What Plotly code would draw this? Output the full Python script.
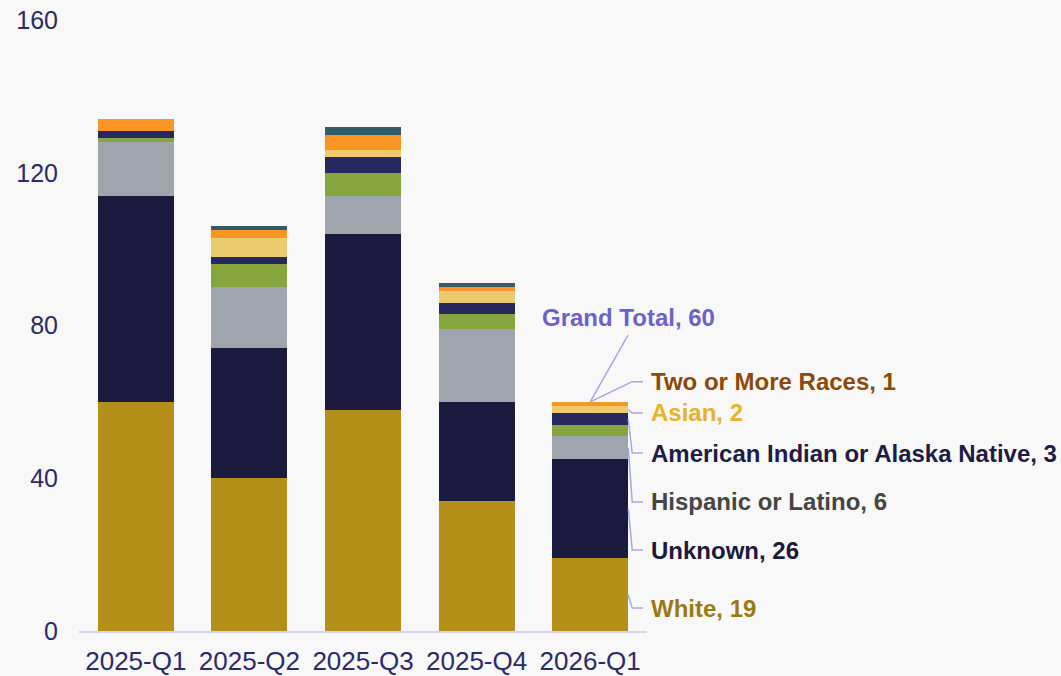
import plotly.graph_objects as go

quarters = ["2025-Q1", "2025-Q2", "2025-Q3", "2025-Q4", "2026-Q1"]

white = [60, 40, 58, 34, 19]
unknown = [54, 34, 46, 26, 26]
hispanic = [14, 16, 10, 19, 6]
black = [1, 6, 6, 4, 3]
am_indian = [2, 2, 4, 3, 3]
asian = [0, 5, 2, 3, 2]
two_or_more = [3, 2, 4, 1, 1]
nhpi = [0, 1, 2, 1, 0]

series_names = ["White", "Unknown", "Hispanic or Latino", "Black or African American",
                "American Indian or Alaska Native", "Asian", "Two or More Races",
                "Native Hawaiian or Other Pacific Islander"]
series_values = [white, unknown, hispanic, black, am_indian, asian, two_or_more, nhpi]
bar_colors = ["#B68F1A", "#1B1A3E", "#9EA5AC", "#85A53D", "#29275F", "#ECCB6E", "#FA9424", "#345B66"]
label_colors = ["#9C7A12", "#1B1A3E", "#454545", None, "#1E1C45", "#E8B22A", "#8B4A0A", None]
# label vertical positions (data units) for the last-bar callouts
label_y = [6.0, 21.2, 33.8, None, 46.6, 57.1, 65.3, None]

FONT = "Arial, Liberation Sans, sans-serif"
AXIS_COLOR = "#2B2A6B"
LEADER = "#A9A5E8"
BAR_W = 0.67

xs = list(range(len(quarters)))
fig = go.Figure()
for name, vals, col in zip(series_names, series_values, bar_colors):
    fig.add_trace(go.Bar(x=xs, y=vals, name=name, marker=dict(color=col, line=dict(width=0)),
                         width=BAR_W, showlegend=False))

last = len(quarters) - 1
right_edge = last + BAR_W / 2
elbow_x = last + 0.37
end_x = last + 0.465
total_last = sum(v[last] for v in series_values)

cum = 0
for name, vals, lc, ly in zip(series_names, series_values, label_colors, label_y):
    v = vals[last]
    mid = cum + v / 2
    cum += v
    if lc is None or v == 0:
        continue
    if name == "Two or More Races":
        start = (last, total_last)
    else:
        start = (right_edge, mid)
    fig.add_trace(go.Scatter(x=[start[0], elbow_x, end_x], y=[start[1], ly, ly], mode="lines",
                             line=dict(color=LEADER, width=1.5), hoverinfo="skip", showlegend=False))
    fig.add_annotation(x=end_x, y=ly, xref="x", yref="y", text=f"<b>{name}, {v}</b>",
                       showarrow=False, xanchor="left", yanchor="middle", xshift=6,
                       font=dict(family=FONT, size=24, color=lc))

# Grand total callout
gt_y = 82.0
fig.add_trace(go.Scatter(x=[last, last + 0.333], y=[total_last, gt_y - 4.5], mode="lines",
                         line=dict(color=LEADER, width=1.5), hoverinfo="skip", showlegend=False))
fig.add_annotation(x=last + 0.333, y=gt_y, xref="x", yref="y", text=f"<b>Grand Total, {total_last}</b>",
                   showarrow=False, xanchor="center", yanchor="middle",
                   font=dict(family=FONT, size=24, color="#6B63C6"))

fig.update_layout(
    barmode="stack",
    width=1061, height=676,
    margin=dict(l=79, r=414, t=20, b=45),
    paper_bgcolor="#F8F8F8", plot_bgcolor="#F8F8F8",
    font=dict(family=FONT, color=AXIS_COLOR),
    xaxis=dict(range=[-0.5, 4.5], tickvals=xs, ticktext=quarters, showgrid=False, zeroline=False,
               showline=True, linecolor="#D3D3EE", linewidth=2, ticks="", automargin=False,
               tickfont=dict(family=FONT, size=26, color=AXIS_COLOR), ticklabelstandoff=6),
    yaxis=dict(range=[0, 160], tickvals=[0, 40, 80, 120, 160], showgrid=False, zeroline=False,
               showline=False, ticks="", automargin=False,
               tickfont=dict(family=FONT, size=25, color=AXIS_COLOR), ticklabelstandoff=20),
)

fig.write_html("out.html", config={"displayModeBar": False},
               post_script="document.body.style.margin='0';document.body.style.background='#F8F8F8';")
